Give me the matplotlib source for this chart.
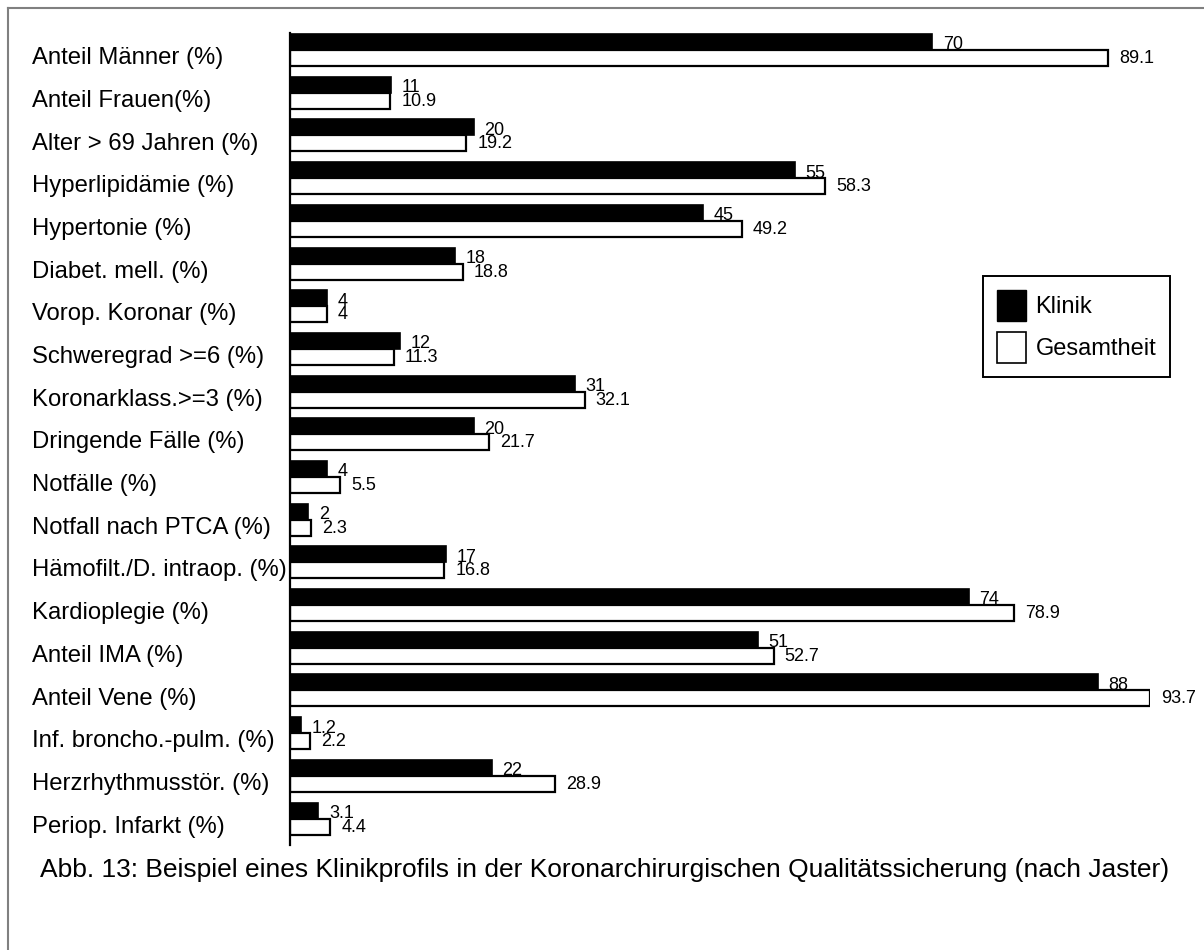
import matplotlib
matplotlib.use('Agg')
import matplotlib.pyplot as plt
from matplotlib.lines import Line2D
from matplotlib.patches import Patch
import matplotlib.transforms as mtransforms
import numpy as np

plt.rcParams['font.family'] = ['Liberation Sans', 'DejaVu Sans']

# Risikoprofil: Klinik gegen Gesamtheit
categories = [
    'Anteil Männer (%)', 'Anteil Frauen(%)', 'Alter > 69 Jahren (%)',
    'Hyperlipidämie (%)', 'Hypertonie (%)', 'Diabet. mell. (%)',
    'Vorop. Koronar (%)', 'Schweregrad >=6 (%)', 'Koronarklass.>=3 (%)',
    'Dringende Fälle (%)', 'Notfälle (%)', 'Notfall nach PTCA (%)',
    'Hämofilt./D. intraop. (%)', 'Kardioplegie (%)', 'Anteil IMA (%)',
    'Anteil Vene (%)', 'Inf. broncho.-pulm. (%)', 'Herzrhythmusstör. (%)',
    'Periop. Infarkt (%)',
]
klinik = [70, 11, 20, 55, 45, 18, 4, 12, 31, 20, 4, 2, 17, 74, 51, 88, 1.2, 22, 3.1]
gesamt = [89.1, 10.9, 19.2, 58.3, 49.2, 18.8, 4, 11.3, 32.1, 21.7, 5.5, 2.3,
          16.8, 78.9, 52.7, 93.7, 2.2, 28.9, 4.4]

W, H = 1204, 950
fig = plt.figure(figsize=(W / 100, H / 100), dpi=100)
fig.patch.set_facecolor('white')

# Rahmen (nur oben und links sichtbar)
fig.add_artist(Line2D([8 / W, 8 / W], [0, 1 - 8 / H], transform=fig.transFigure,
                      color='#808080', lw=1.5))
fig.add_artist(Line2D([8 / W, 1], [1 - 8 / H, 1 - 8 / H], transform=fig.transFigure,
                      color='#808080', lw=1.5))

ax = fig.add_axes([290 / W, 1 - 845 / H, 860 / W, 812 / H])
y = np.arange(len(categories))
h = 0.375
ax.barh(y - h / 2, klinik, height=h, color='black', edgecolor='black', lw=1.2)
ax.barh(y + h / 2, gesamt, height=h, color='white', edgecolor='black', lw=1.6)

ax.set_xlim(0, max(gesamt))
ax.set_ylim(18.62, -0.40)
for s in ['top', 'right', 'bottom']:
    ax.spines[s].set_visible(False)
ax.spines['left'].set_linewidth(1.6)
ax.set_xticks([])
ax.set_yticks([])
ax.patch.set_alpha(0)

# Kategorien linksbuendig
trans = mtransforms.blended_transform_factory(fig.transFigure, ax.transData)
for i, name in enumerate(categories):
    ax.text(32 / W, i + 0.19, name, transform=trans, ha='left', va='center',
            fontsize=17.2)

# Werte an den Balkenenden
for i in range(len(categories)):
    ax.annotate(f'{klinik[i]:g}', (klinik[i], i - 0.12), xytext=(7.5, 0),
                textcoords='offset points', ha='left', va='center', fontsize=13,
                annotation_clip=False)
    ax.annotate(f'{gesamt[i]:g}', (gesamt[i], i + 0.2), xytext=(8, 0),
                textcoords='offset points', ha='left', va='center', fontsize=13,
                annotation_clip=False)

handles = [Patch(facecolor='black', edgecolor='black', label='Klinik'),
           Patch(facecolor='white', edgecolor='black', lw=1.2, label='Gesamtheit')]
leg = fig.legend(handles=handles, loc='upper left',
                 bbox_to_anchor=(983 / W, 1 - 276 / H), fontsize=17,
                 handlelength=1.2, handleheight=1.6, handletextpad=0.42,
                 borderpad=0.6, labelspacing=0.5, borderaxespad=0,
                 fancybox=False, edgecolor='black', framealpha=1)
leg.get_frame().set_linewidth(1.4)

fig.text(40 / W, 1 - 870 / H,
         'Abb. 13: Beispiel eines Klinikprofils in der Koronarchirurgischen '
         'Qualitätssicherung (nach Jaster)', ha='left', va='center', fontsize=19)

fig.savefig('out.png', dpi=100)
